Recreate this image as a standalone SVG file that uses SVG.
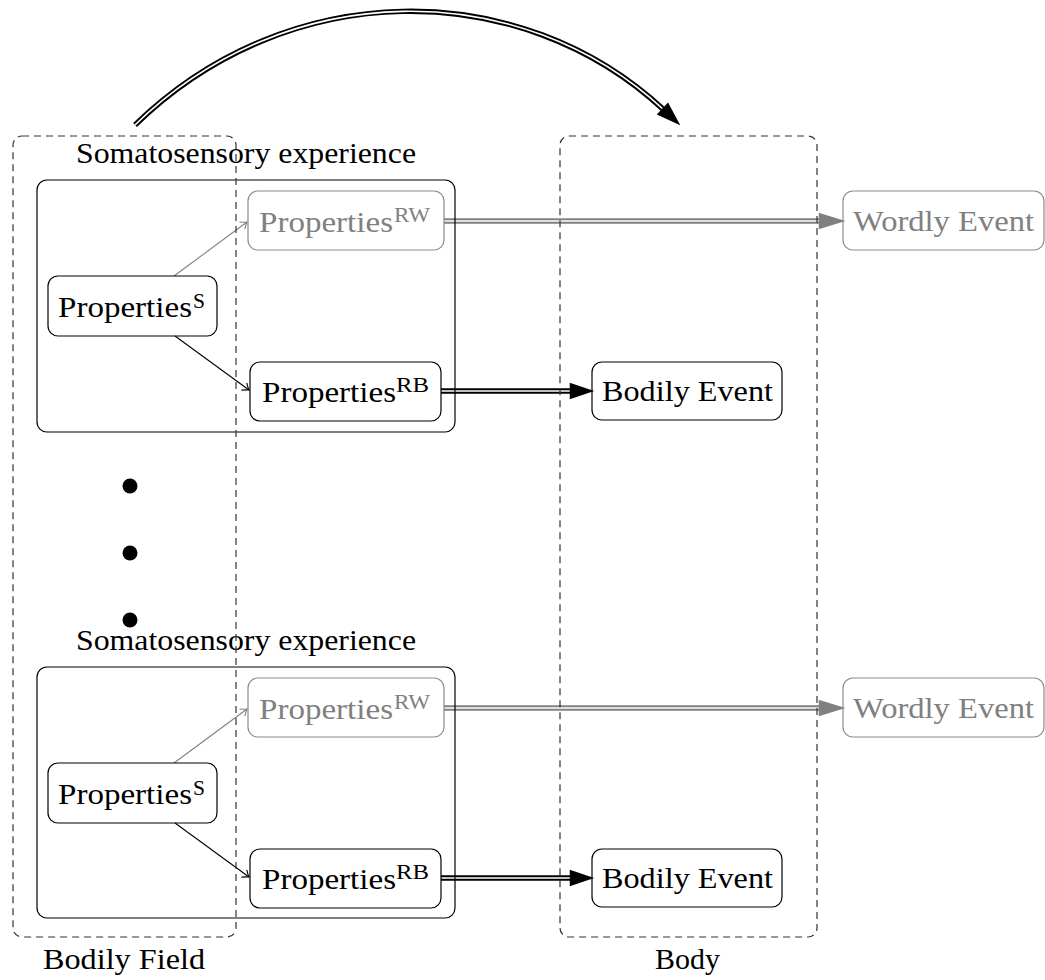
<svg xmlns="http://www.w3.org/2000/svg" width="1045" height="980" viewBox="0 0 1045 980" font-family="'Liberation Serif', 'DejaVu Serif', serif">
<style>
text{font-family:"Liberation Serif","DejaVu Serif",serif;font-size:30px;fill:#000}
.g text{fill:#808080}
.sup{font-size:21px}
.node{fill:none;stroke:#000;stroke-width:1.2}
.gnode{fill:none;stroke:#8c8c8c;stroke-width:1.2}
.cont{fill:none;stroke:#000;stroke-width:1.2}
.dash{fill:none;stroke:#333;stroke-width:1.2;stroke-dasharray:7,5}
.outer{fill:none;stroke:#000;stroke-width:5.4}
.inner{fill:none;stroke:#fff;stroke-width:1.6}
.gouter{fill:none;stroke:#808080;stroke-width:5.4}
</style>
<defs>
<marker id="headB" markerUnits="userSpaceOnUse" markerWidth="30" markerHeight="20" viewBox="-3 -9 26 18" refX="0" refY="0" orient="auto"><path d="M-2,-7.5 L20,0 L-2,7.5 z" fill="#000"/></marker>
<marker id="headG" markerUnits="userSpaceOnUse" markerWidth="30" markerHeight="20" viewBox="-3 -9 26 18" refX="0" refY="0" orient="auto"><path d="M-2,-7.5 L22,0 L-2,7.5 z" fill="#808080"/></marker>
<marker id="openB" markerUnits="userSpaceOnUse" markerWidth="12" markerHeight="12" viewBox="-7 -6 8 12" refX="0" refY="0" orient="auto"><path d="M-6,-4.5 Q-2,-1 0,0 Q-2,1 -6,4.5" fill="none" stroke="#000" stroke-width="1.1"/></marker>
<marker id="openG" markerUnits="userSpaceOnUse" markerWidth="12" markerHeight="12" viewBox="-7 -6 8 12" refX="0" refY="0" orient="auto"><path d="M-6,-4.5 Q-2,-1 0,0 Q-2,1 -6,4.5" fill="none" stroke="#808080" stroke-width="1.1"/></marker>
</defs>

<g id="connectors">
  <path class="outer" d="M135,125 C288,-24 520,-24 664,110"/>
  <path class="inner" d="M135,125 C288,-24 520,-24 664,110"/>
  <path d="M135,125 C288,-24 520,-24 664,110" fill="none" stroke="none" marker-end="url(#headB)"/>
  <line x1="174" y1="276" x2="247" y2="222" stroke="#808080" stroke-width="1.1" marker-end="url(#openG)"/>
  <line x1="175" y1="336" x2="249" y2="390" stroke="#000" stroke-width="1.1" marker-end="url(#openB)"/>
  <line class="gouter" x1="444" y1="221" x2="821" y2="221"/>
  <line class="inner" x1="444" y1="221" x2="821" y2="221"/>
  <line x1="444" y1="221" x2="821" y2="221" stroke="none" marker-end="url(#headG)"/>
  <line class="outer" x1="441" y1="391" x2="572" y2="391"/>
  <line class="inner" x1="441" y1="391" x2="572" y2="391"/>
  <line x1="441" y1="391" x2="572" y2="391" stroke="none" marker-end="url(#headB)"/>
  <line x1="174" y1="763" x2="247" y2="709" stroke="#808080" stroke-width="1.1" marker-end="url(#openG)"/>
  <line x1="175" y1="823" x2="249" y2="877" stroke="#000" stroke-width="1.1" marker-end="url(#openB)"/>
  <line class="gouter" x1="444" y1="708" x2="821" y2="708"/>
  <line class="inner" x1="444" y1="708" x2="821" y2="708"/>
  <line x1="444" y1="708" x2="821" y2="708" stroke="none" marker-end="url(#headG)"/>
  <line class="outer" x1="441" y1="878" x2="572" y2="878"/>
  <line class="inner" x1="441" y1="878" x2="572" y2="878"/>
  <line x1="441" y1="878" x2="572" y2="878" stroke="none" marker-end="url(#headB)"/>
</g>

<g id="exp1">
  <rect class="cont" x="37" y="180" width="418" height="252" rx="10"/>
  <text x="76" y="163" textLength="340" lengthAdjust="spacingAndGlyphs">Somatosensory experience</text>
</g>
<g id="propS1">
  <rect class="node" x="48" y="276" width="169" height="60" rx="10"/>
  <text x="58" y="317" textLength="134" lengthAdjust="spacingAndGlyphs">Properties</text>
  <text class="sup" x="193" y="308" textLength="12" lengthAdjust="spacingAndGlyphs">S</text>
</g>
<g id="propRW1" class="g">
  <rect class="gnode" x="248" y="191" width="196" height="59" rx="10"/>
  <text x="259" y="232" textLength="134" lengthAdjust="spacingAndGlyphs">Properties</text>
  <text class="sup" x="394" y="222" textLength="36" lengthAdjust="spacingAndGlyphs">RW</text>
</g>
<g id="propRB1">
  <rect class="node" x="250" y="362" width="191" height="59" rx="10"/>
  <text x="262" y="402" textLength="134" lengthAdjust="spacingAndGlyphs">Properties</text>
  <text class="sup" x="396" y="392" textLength="33" lengthAdjust="spacingAndGlyphs">RB</text>
</g>
<g id="bodily1">
  <rect class="node" x="592" y="362" width="190" height="58" rx="10"/>
  <text x="602" y="401" textLength="171" lengthAdjust="spacingAndGlyphs">Bodily Event</text>
</g>
<g id="wordly1" class="g">
  <rect class="gnode" x="843" y="191" width="201" height="59" rx="10"/>
  <text x="853" y="231" textLength="181" lengthAdjust="spacingAndGlyphs">Wordly Event</text>
</g>

<g id="dots">
  <circle cx="130" cy="486" r="7.5" fill="#000"/>
  <circle cx="130" cy="553" r="7.5" fill="#000"/>
  <circle cx="130" cy="620" r="7.5" fill="#000"/>
</g>

<g id="exp2">
  <rect class="cont" x="37" y="667" width="418" height="251" rx="10"/>
  <text x="76" y="650" textLength="340" lengthAdjust="spacingAndGlyphs">Somatosensory experience</text>
</g>
<g id="propS2">
  <rect class="node" x="48" y="763" width="169" height="60" rx="10"/>
  <text x="58" y="804" textLength="134" lengthAdjust="spacingAndGlyphs">Properties</text>
  <text class="sup" x="193" y="795" textLength="12" lengthAdjust="spacingAndGlyphs">S</text>
</g>
<g id="propRW2" class="g">
  <rect class="gnode" x="248" y="678" width="196" height="59" rx="10"/>
  <text x="259" y="719" textLength="134" lengthAdjust="spacingAndGlyphs">Properties</text>
  <text class="sup" x="394" y="709" textLength="36" lengthAdjust="spacingAndGlyphs">RW</text>
</g>
<g id="propRB2">
  <rect class="node" x="250" y="849" width="191" height="59" rx="10"/>
  <text x="262" y="889" textLength="134" lengthAdjust="spacingAndGlyphs">Properties</text>
  <text class="sup" x="396" y="879" textLength="33" lengthAdjust="spacingAndGlyphs">RB</text>
</g>
<g id="bodily2">
  <rect class="node" x="592" y="849" width="190" height="58" rx="10"/>
  <text x="602" y="888" textLength="171" lengthAdjust="spacingAndGlyphs">Bodily Event</text>
</g>
<g id="wordly2" class="g">
  <rect class="gnode" x="843" y="678" width="201" height="59" rx="10"/>
  <text x="853" y="718" textLength="181" lengthAdjust="spacingAndGlyphs">Wordly Event</text>
</g>

<g id="bodilyField">
  <rect class="dash" x="13" y="136" width="223" height="801" rx="9"/>
  <text x="43" y="969" textLength="162" lengthAdjust="spacingAndGlyphs">Bodily Field</text>
</g>
<g id="body">
  <rect class="dash" x="560" y="136" width="257" height="801" rx="9"/>
  <text x="655" y="969" textLength="65" lengthAdjust="spacingAndGlyphs">Body</text>
</g>
</svg>
